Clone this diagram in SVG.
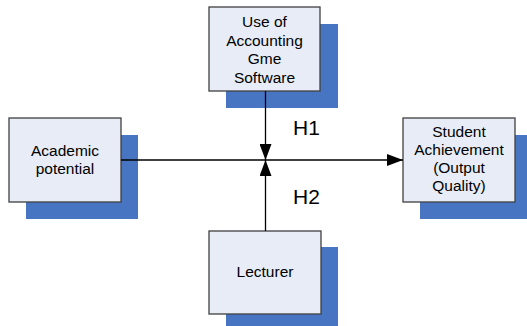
<svg xmlns="http://www.w3.org/2000/svg" width="527" height="326" viewBox="0 0 527 326">
<style>
.shadow{fill:#4775C2;}
.box{fill:#E7ECF7;stroke:#404040;stroke-width:1.3;}
.lbl{font-family:"Liberation Sans",Arial,sans-serif;font-size:15.5px;fill:#000;text-anchor:middle;}
.h{font-family:"Liberation Sans",Arial,sans-serif;font-size:21px;fill:#000;}
.conn{stroke:#000;stroke-width:1.3;fill:none;}
</style>
<defs>
<marker id="arr" viewBox="0 0 16 12" refX="16" refY="6" markerWidth="16" markerHeight="12" markerUnits="userSpaceOnUse" orient="auto">
<path d="M0,0 L16,6 L0,12 Z" fill="#000"/>
</marker>
</defs>
<rect width="527" height="326" fill="#fff"/>
<g id="software">
<rect class="shadow" x="226" y="24" width="112" height="84"/>
<rect class="box" x="209" y="7" width="111" height="84"/>
<text class="lbl" x="264.5" y="27">Use of</text>
<text class="lbl" x="264.5" y="45.5">Accounting</text>
<text class="lbl" x="264.5" y="64">Gme</text>
<text class="lbl" x="264.5" y="82.5">Software</text>
</g>
<g id="academic">
<rect class="shadow" x="26" y="135" width="112" height="84"/>
<rect class="box" x="9" y="118" width="112" height="84"/>
<text class="lbl" x="65" y="156">Academic</text>
<text class="lbl" x="65" y="174">potential</text>
</g>
<g id="achievement">
<rect class="shadow" x="420" y="135" width="107" height="84"/>
<rect class="box" x="403" y="118" width="112" height="84"/>
<text class="lbl" x="459" y="137">Student</text>
<text class="lbl" x="459" y="155">Achievement</text>
<text class="lbl" x="459" y="173">(Output</text>
<text class="lbl" x="459" y="191">Quality)</text>
</g>
<g id="lecturer">
<rect class="shadow" x="226" y="247" width="112" height="79"/>
<rect class="box" x="209" y="231" width="112" height="83"/>
<text class="lbl" x="265" y="277">Lecturer</text>
</g>
<g id="connectors">
<line class="conn" x1="121" y1="160" x2="403" y2="160" marker-end="url(#arr)"/>
<line class="conn" x1="265.5" y1="91" x2="265.5" y2="160" marker-end="url(#arr)"/>
<line class="conn" x1="265.5" y1="231" x2="265.5" y2="160" marker-end="url(#arr)"/>
<text class="h" x="293" y="135">H1</text>
<text class="h" x="293" y="204">H2</text>
</g>
</svg>
